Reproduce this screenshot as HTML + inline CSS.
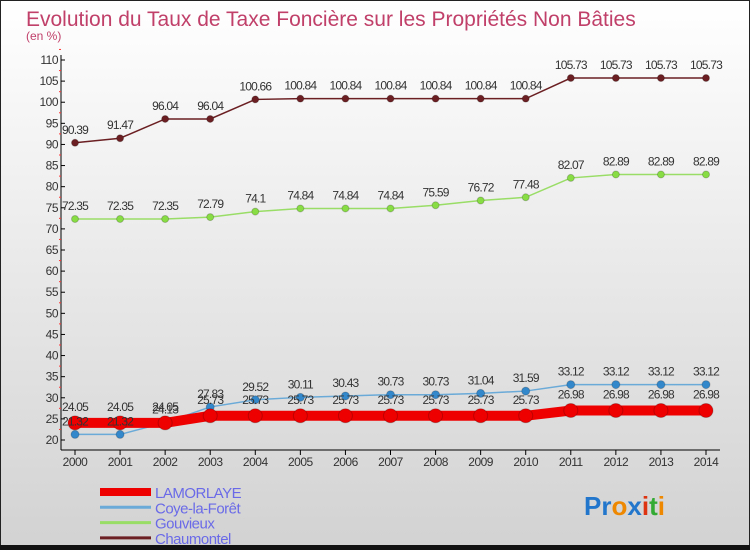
<!DOCTYPE html>
<html><head><meta charset="utf-8"><style>
body{margin:0;width:750px;height:550px;overflow:hidden;font-family:"Liberation Sans",sans-serif}
#c{position:absolute;left:0;top:0}
</style></head><body>
<svg id="c" width="750" height="550" xmlns="http://www.w3.org/2000/svg">
<defs><linearGradient id="bg" x1="0" y1="0" x2="0" y2="1"><stop offset="0" stop-color="#ffffff"/><stop offset="1" stop-color="#d2d2d2"/></linearGradient></defs>
<rect x="0.5" y="0.5" width="749" height="548" fill="url(#bg)" stroke="#222"/>
<rect x="0" y="545" width="750" height="5" fill="#111"/>
<text x="26" y="26" font-size="21" fill="#c0406a">Evolution du Taux de Taxe Foncière sur les Propriétés Non Bâties</text>
<text x="26" y="40" font-size="12" fill="#c0406a">(en %)</text>
<g id="axes"></g><g id="series"></g><g id="legend"></g>
<text x="584" y="515" font-size="26" font-weight="bold"><tspan fill="#2277cc">Pr</tspan><tspan fill="#ee8800">o</tspan><tspan fill="#2277cc">x</tspan><tspan fill="#dd3311">i</tspan><tspan fill="#33aa33">t</tspan><tspan fill="#ee8800">i</tspan></text>
</svg>
<script>
const years=[2000,2001,2002,2003,2004,2005,2006,2007,2008,2009,2010,2011,2012,2013,2014];
const yTicks=[20,25,30,35,40,45,50,55,60,65,70,75,80,85,90,95,100,105,110];
const lamorlaye=[24.05,24.05,24.05,25.73,25.73,25.73,25.73,25.73,25.73,25.73,25.73,26.98,26.98,26.98,26.98];
const coye=[21.32,21.32,24.13,27.83,29.52,30.11,30.43,30.73,30.73,31.04,31.59,33.12,33.12,33.12,33.12];
const gouvieux=[72.35,72.35,72.35,72.79,74.1,74.84,74.84,74.84,75.59,76.72,77.48,82.07,82.89,82.89,82.89];
const chaumontel=[90.39,91.47,96.04,96.04,100.66,100.84,100.84,100.84,100.84,100.84,100.84,105.73,105.73,105.73,105.73];
const NS="http://www.w3.org/2000/svg";
const x=i=>75+i*(706-75)/(years.length-1);
const y=v=>440-(v-20)*(380/90);
function mk(p,t,a){const e=document.createElementNS(NS,t);for(const k in a)e.setAttribute(k,a[k]);p.appendChild(e);return e;}
const ax=document.getElementById('axes');
let l=mk(ax,'line',{x1:61,y1:55,x2:61,y2:450,stroke:'#000'});


l=mk(ax,'line',{x1:61,y1:450,x2:720,y2:450,stroke:'#000'});


yTicks.forEach(v=>{mk(ax,'line',{x1:61,y1:y(v),x2:65,y2:y(v),stroke:'#000'});
 const t=mk(ax,'text',{x:58,y:y(v)+4,'font-size':12,'text-anchor':'end',fill:'#333','letter-spacing':'-0.5'});t.textContent=v;
 
 
 mk(ax,'line',{x1:59,y1:y(v+2.5),x2:61,y2:y(v+2.5),stroke:'#f33'});});
years.forEach((yr,i)=>{mk(ax,'line',{x1:x(i),y1:450,x2:x(i),y2:455,stroke:'#000'});
 const t=mk(ax,'text',{x:x(i),y:466,'font-size':12,'text-anchor':'middle',fill:'#333','letter-spacing':'-0.5'});t.textContent=yr;
 
 });
const S=[
 {n:'Chaumontel',d:chaumontel,c:'#6b1f22',w:1.5,r:3.5,mc:'#6b1f22'},
 {n:'Gouvieux',d:gouvieux,c:'#99dd66',w:1.5,r:3.5,mc:'#88dd44'},
 {n:'Coye-la-Forêt',d:coye,c:'#6aaad8',w:1.5,r:4,mc:'#3388cc'},
 {n:'LAMORLAYE',d:lamorlaye,c:'#ee0000',w:10,r:7,mc:'#ee0000'}];
const sg=document.getElementById('series');
S.forEach(s=>{const g=mk(sg,'g',{});
 
 
 const p=mk(g,'polyline',{points:s.d.map((v,i)=>x(i)+','+y(v)).join(' '),fill:'none',stroke:s.c,'stroke-width':s.w});
 
 
 s.d.forEach((v,i)=>{const c=mk(g,'circle',{cx:x(i),cy:y(v),r:s.r,fill:s.mc,stroke:'rgba(0,0,0,0.2)'});
  
  });
});
S.forEach(s=>{s.d.forEach((v,i)=>{const t=mk(sg,'text',{x:x(i),y:y(v)-(s.r>5?12:9),'font-size':12,'text-anchor':'middle',fill:'#333','letter-spacing':'-0.8'});
 t.textContent=String(v);
 
 });});
const lg=document.getElementById('legend');
[S[3],S[2],S[1],S[0]].forEach((s,k)=>{const yy=492+k*15.3;
 const g=mk(lg,'g',{});
 
 
 mk(g,'line',{x1:100,y1:yy,x2:151,y2:yy,stroke:s.c,'stroke-width':k==0?8:3});
 const t=mk(g,'text',{x:155,y:yy+6,'font-size':15,fill:'#6a6ae8','letter-spacing':'-0.5'});t.textContent=s.n;});
</script>
</body></html>
